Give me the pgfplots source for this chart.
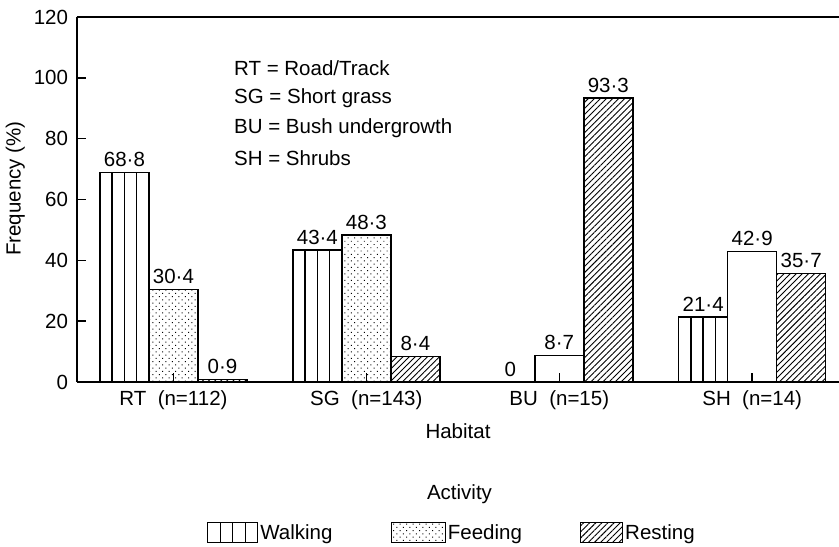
\documentclass[border=0pt]{standalone}
\usepackage{fontspec}
\setmainfont{Liberation Sans}
\usepackage{pgfplots}
\pgfplotsset{compat=1.18}
\usetikzlibrary{patterns,patterns.meta}
\begin{document}
\fontsize{20.5bp}{24bp}\selectfont
\begin{tikzpicture}
\useasboundingbox (-77bp,-165bp) rectangle (762bp,382bp);
\begin{axis}[
  scale only axis, width=762bp, height=365bp,
  xmin=-0.5, xmax=3.45, ymin=0, ymax=120,
  clip=false,
  axis lines=left, axis line style={-, line width=1.6bp},
  tick align=inside, major tick length=9bp,
  tick style={line width=1.4bp, black},
  xtick={0,1,2,3},
  xticklabels={RT\ \ (n=112), SG\ \ (n=143), BU\ \ (n=15), SH\ \ (n=14)},
  ytick={0,20,...,120},
  /pgf/number format/assume math mode=true,
  yticklabel style={xshift=-2bp},
  xticklabel style={yshift=-2bp},
  xlabel={Habitat}, ylabel={Frequency (\%)},
  xlabel style={at={(axis description cs:0.5,-0.134)}, anchor=center},
  ylabel style={at={(axis description cs:-0.081,0.53)}, anchor=center},
  axis on top,
  every node near coord/.append style={inner sep=2bp, yshift=3bp},
  legend style={at={(axis description cs:0.492,-0.414)}, anchor=center,
    legend columns=3, draw=none, fill=none,
    /tikz/every even column/.append style={column sep=56bp}},
]
% Walking
\addplot[ybar, bar width=49bp, bar shift=-49bp, draw=black, line width=1.5bp, fill=white,
  nodes near coords, point meta=explicit symbolic,
  every node near coord/.append style={xshift=-49bp},
  legend image code/.code={
    \draw[line width=1.3bp, fill=white] (0bp,-9bp) rectangle (50bp,11bp);
    \draw[line width=1.3bp] (12.5bp,-9bp) -- (12.5bp,11bp) (25bp,-9bp) -- (25bp,11bp) (37.5bp,-9bp) -- (37.5bp,11bp);}]
  coordinates {(0,68.8)[68·8] (1,43.4)[43·4] (2,0)[0] (3,21.4)[21·4]};
\addlegendentry{Walking}
\addplot[ybar, bar width=24.5bp, bar shift=-49bp, draw=black, line width=1.5bp, fill=none, forget plot]
  coordinates {(0,68.8) (1,43.4) (3,21.4)};
\addplot[ybar, bar width=0.01bp, bar shift=-49bp, draw=black, line width=1.5bp, fill=none, forget plot]
  coordinates {(0,68.8) (1,43.4) (3,21.4)};
% Feeding
\addplot[ybar, bar width=49bp, bar shift=0bp, draw=black, line width=1.5bp,
  pattern={Dots[distance=4.6bp, radius=0.7bp, angle=45]},
  nodes near coords, point meta=explicit symbolic,
  legend image code/.code={
    \draw[line width=1.3bp, pattern={Dots[distance=4.6bp, radius=0.7bp, angle=45]}] (0bp,-9bp) rectangle (54bp,11bp);}]
  coordinates {(0,30.4)[30·4] (1,48.3)[48·3]};
\addlegendentry{Feeding}
\addplot[ybar, bar width=49bp, bar shift=0bp, draw=black, line width=1.5bp, fill=white,
  nodes near coords, point meta=explicit symbolic, forget plot]
  coordinates {(2,8.7)[8·7] (3,42.9)[42·9]};
% Resting
\addplot[ybar, bar width=49bp, bar shift=49bp, draw=black, line width=1.5bp,
  pattern={Lines[angle=45, distance=4.3bp, line width=0.9bp]},
  nodes near coords, point meta=explicit symbolic,
  every node near coord/.append style={xshift=49bp},
  legend image code/.code={
    \draw[line width=1.3bp, pattern={Lines[angle=45, distance=4.3bp, line width=0.9bp]}] (0bp,-9bp) rectangle (42bp,11bp);}]
  coordinates {(0,0.9)[0·9] (1,8.4)[8·4] (2,93.3)[93·3] (3,35.7)[35·7]};
\addlegendentry{Resting}
\draw[line width=1.6bp] (rel axis cs:0,1) -- (rel axis cs:1,1);
\node[anchor=west] at (axis cs:0.278,103.2) {RT = Road/Track};
\node[anchor=west] at (axis cs:0.278,93.4) {SG = Short grass};
\node[anchor=west] at (axis cs:0.278,83.5) {BU = Bush undergrowth};
\node[anchor=west] at (axis cs:0.278,73.6) {SH = Shrubs};
\node[anchor=center] at (axis description cs:0.502,-0.307) {Activity};
\end{axis}
\end{tikzpicture}
\end{document}
